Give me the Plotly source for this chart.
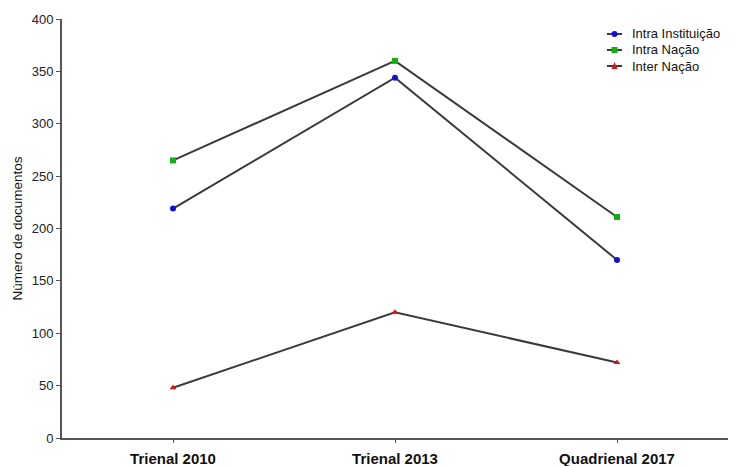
import plotly.graph_objects as go

categories = ["Trienal 2010", "Trienal 2013", "Quadrienal 2017"]
intra_instituicao = [219, 344, 170]
intra_nacao = [265, 360, 211]
inter_nacao = [48, 120, 72]

series = [
    ("Intra Instituição", intra_instituicao, "circle", "#1010d0"),
    ("Intra Nação", intra_nacao, "square", "#10b010"),
    ("Inter Nação", inter_nacao, "triangle-up", "#e01010"),
]

W, H = 739, 458
L, R, T, B = 54, 19, 11, 28
pw, ph = W - L - R, H - T - B

fig = go.Figure()
for name, vals, sym, col in series:
    fig.add_trace(go.Scatter(
        x=list(range(len(categories))), y=vals, name=name,
        mode="lines+markers", showlegend=False,
        line=dict(color="#3a3a3a", width=2),
        marker=dict(symbol=sym, color=col, size=6),
    ))

# custom legend (compact rows) in paper coordinates
row_px = [26, 42, 58]        # row centres, px from top of figure
line_px = (599, 614)         # legend line segment, px from left of figure
text_px = 622
shapes, annotations = [], []
for (name, vals, sym, col), ry in zip(series, row_px):
    py = (H - B - ry) / ph
    x0 = (line_px[0] - L) / pw
    x1 = (line_px[1] - L) / pw
    xm = (x0 + x1) / 2
    dx, dy = 3 / pw, 3 / ph
    shapes.append(dict(type="line", xref="paper", yref="paper", x0=x0, x1=x1, y0=py, y1=py,
                       line=dict(color="#3a3a3a", width=2)))
    if sym == "circle":
        shapes.append(dict(type="circle", xref="paper", yref="paper", x0=xm - dx, x1=xm + dx,
                           y0=py - dy, y1=py + dy, fillcolor=col, line=dict(width=0)))
    elif sym == "square":
        shapes.append(dict(type="rect", xref="paper", yref="paper", x0=xm - dx, x1=xm + dx,
                           y0=py - dy, y1=py + dy, fillcolor=col, line=dict(width=0)))
    else:
        path = "M %f,%f L %f,%f L %f,%f Z" % (xm - dx, py - dy, xm + dx, py - dy, xm, py + dy * 1.3)
        shapes.append(dict(type="path", xref="paper", yref="paper", path=path,
                           fillcolor=col, line=dict(width=0)))
    annotations.append(dict(text=name, xref="paper", yref="paper", x=(text_px - L) / pw, y=py,
                            xanchor="left", yanchor="middle", showarrow=False,
                            font=dict(size=13, color="#111")))

fig.update_layout(
    width=W, height=H,
    margin=dict(l=L, r=R, t=T, b=B, autoexpand=False),
    plot_bgcolor="white", paper_bgcolor="white",
    font=dict(family="Liberation Sans, Arial, sans-serif", color="#222"),
    showlegend=False,
    shapes=shapes, annotations=annotations,
)
fig.update_xaxes(
    range=[-0.5, 2.5], tickmode="array", tickvals=list(range(len(categories))),
    ticktext=["<b>%s</b>" % c for c in categories],
    showgrid=False, zeroline=False, showline=True, linecolor="#555", linewidth=2,
    ticks="outside", ticklen=3, tickcolor="#555", tickwidth=1,
    tickfont=dict(size=15, color="#111"), automargin=False, ticklabelstandoff=3,
)
fig.update_yaxes(
    range=[0, 400], tickmode="array", tickvals=list(range(0, 401, 50)),
    showgrid=False, zeroline=False, showline=True, linecolor="#555", linewidth=2,
    ticks="outside", ticklen=4, tickcolor="#555", tickwidth=1,
    tickfont=dict(size=13, color="#222"), automargin=False,
    title=dict(text="Número de documentos", font=dict(size=13.5, color="#111"), standoff=6),
)

fig.write_html("out.html")
